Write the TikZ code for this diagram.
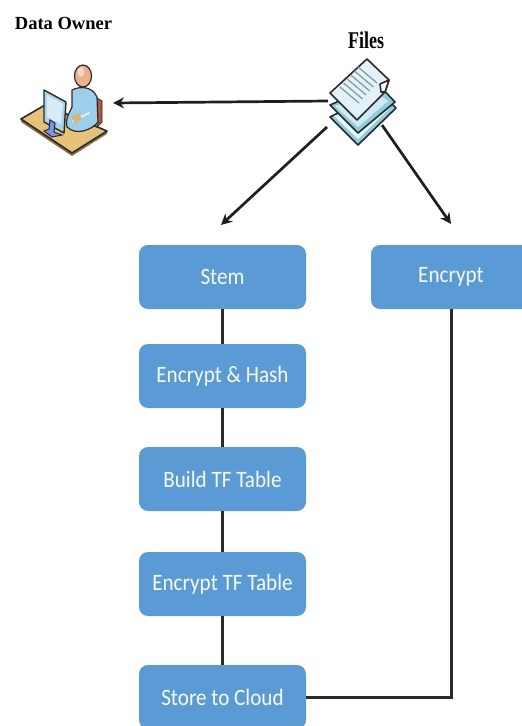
\documentclass[tikz,border=0pt]{standalone}
\usepackage{fontspec}
\setmainfont{Liberation Serif}
\newfontfamily\boxfont{Carlito}
\usetikzlibrary{arrows.meta,calc}
\definecolor{boxblue}{HTML}{5B9BD5}
\definecolor{linedark}{HTML}{2A2A2A}
\definecolor{paperblue}{HTML}{CFEAF3}
\definecolor{paperteal}{HTML}{8CCFE0}
\definecolor{deskyellow}{HTML}{E6C277}
\definecolor{bodyblue}{HTML}{9CCFEA}
\definecolor{screenblue}{HTML}{A9D4EE}
\definecolor{chairbrown}{HTML}{B5583A}
\definecolor{skin}{HTML}{EDB088}
\tikzset{
  stepbox/.style={draw=none,fill=boxblue,rounded corners=9pt,minimum width=167pt,minimum height=64pt,inner sep=0pt,text=white!96!boxblue},
  steptext/.style={font=\boxfont\fontsize{23.5}{26}\selectfont,xscale=0.9},
  link/.style={draw=linedark,line width=3pt},
  pointer/.style={draw=black!88,line width=2.7pt,-{Stealth[length=11pt,width=11pt]}},
  icon/.style={draw=none,minimum size=2pt,inner sep=0pt},
  sheet/.style={draw=linedark,line width=1.6pt,line join=round},
  ruleline/.style={draw=gray!70!paperteal,line width=1.2pt},
}
\newcommand{\stepname}[1]{\scalebox{0.9}[1]{\boxfont\fontsize{23.5}{26}\selectfont #1}}
\begin{document}
\begin{tikzpicture}[x=1pt,y=-1pt]
\useasboundingbox (0,0) rectangle (522,726);
% Boxes
\node[stepbox] (stem) at (222.5,277) {\stepname{Stem}};
\node[stepbox,minimum width=160pt] (enc) at (451,277) {\stepname{Encrypt}};
\node[stepbox] (hash) at (222.5,376) {\stepname{Encrypt \& Hash}};
\node[stepbox] (build) at (222.5,479) {\stepname{Build TF Table}};
\node[stepbox] (tf) at (222.5,584) {\stepname{Encrypt TF Table}};
\node[stepbox] (cloud) at (222.5,697) {\stepname{Store to Cloud}};
% Connectors
\draw[link] (stem) -- (hash);
\draw[link] (hash) -- (build);
\draw[link] (build) -- (tf);
\draw[link] (tf) -- (cloud);
\draw[link,line join=miter] (cloud.east) -| (enc.south);
% Titles
\node[inner sep=0pt,font=\bfseries\fontsize{18.5}{20}\selectfont] (ownerlabel) at (63.5,23) {Data Owner};
\node[inner sep=0pt] (fileslabel) at (366,40) {\scalebox{0.75}[1]{\bfseries\fontsize{24}{26}\selectfont Files}};
% Owner icon
\node[icon] (owner) at (64,110) {};
\fill[deskyellow!60!black] (21,119) -- (72,153) -- (107,131) -- (107,134) -- (72,156) -- (21,122) -- cycle;
\draw[sheet,fill=deskyellow] (21,119) -- (45,105) -- (107,131) -- (72,153) -- cycle;
\fill[chairbrown,draw=linedark,line width=.8pt] (97,98) -- (102,101) -- (102,122) -- (97,127) -- cycle;
\draw[line width=1.2pt,draw=linedark,fill=bodyblue] (72,90) .. controls (80,86) and (92,86) .. (97,97) -- (98,122) .. controls (92,130) and (76,136) .. (67,127) .. controls (65,118) and (70,112) .. (72,107) -- cycle;
\draw[draw=white!70!bodyblue,line width=2pt,line cap=round] (73,121) -- (89,113);
\fill[deskyellow!80!brown] (72,117) -- (79,113) -- (82,119) -- (75,124) -- cycle;
\draw[line width=1.2pt,draw=linedark,fill=skin] (83,76) ellipse (8.5pt and 11pt);
\fill[white!50!skin] (81,72) ellipse (3.5pt and 5pt);
\draw[line width=1.4pt,draw=linedark,fill=screenblue,line join=round] (44,90) -- (66,102) -- (64,133) -- (44,122) -- cycle;
\fill[white!55!screenblue] (47,95) -- (63,104) -- (61,124) -- (47,117) -- cycle;
\draw[line width=1pt,draw=linedark,fill=screenblue!70!blue] (50,120) -- (55,123) -- (54,132) -- (62,135) -- (52,137) -- (44,131) -- (49,129) -- cycle;
% Files icon
\node[icon] (files) at (362,102) {};
\draw[sheet,fill=paperteal] (330,117) -- (358,145) -- (396,108) -- (380,92) -- cycle;
\fill[white!60!paperblue] (334,116) -- (358,139) -- (390,108) -- (380,100) -- cycle;
\draw[sheet,fill=paperteal] (330,105) -- (358,133) -- (395,102) -- (378,84) -- cycle;
\fill[paperblue] (335,106) -- (358,127) -- (388,101) -- (376,92) -- cycle;
\draw[sheet,fill=paperblue!60!white] (367,59) -- (389,80) -- (385,92) -- (357,120) -- (330,93) -- cycle;
\foreach \i in {0,1,2,3,4,5}{
  \draw[ruleline] ($(358,67)+(\i*-3.6,\i*4)$) -- ++(19,16);
}
\draw[sheet,fill=white] (389,80) -- (380,84) -- (381,92) -- (385,92) -- cycle;
% Pointers
\coordinate (filesW) at (328,101);
\coordinate (filesSW) at (327,127);
\coordinate (filesSE) at (382,125);
\coordinate (tipOwner) at (113,103);
\coordinate (tipStem) at (221,225);
\coordinate (tipEnc) at (451,224);
\draw[pointer] (filesW) -- (tipOwner);
\draw[pointer] (filesSW) -- (tipStem);
\draw[pointer] (filesSE) -- (tipEnc);
\end{tikzpicture}
\end{document}
